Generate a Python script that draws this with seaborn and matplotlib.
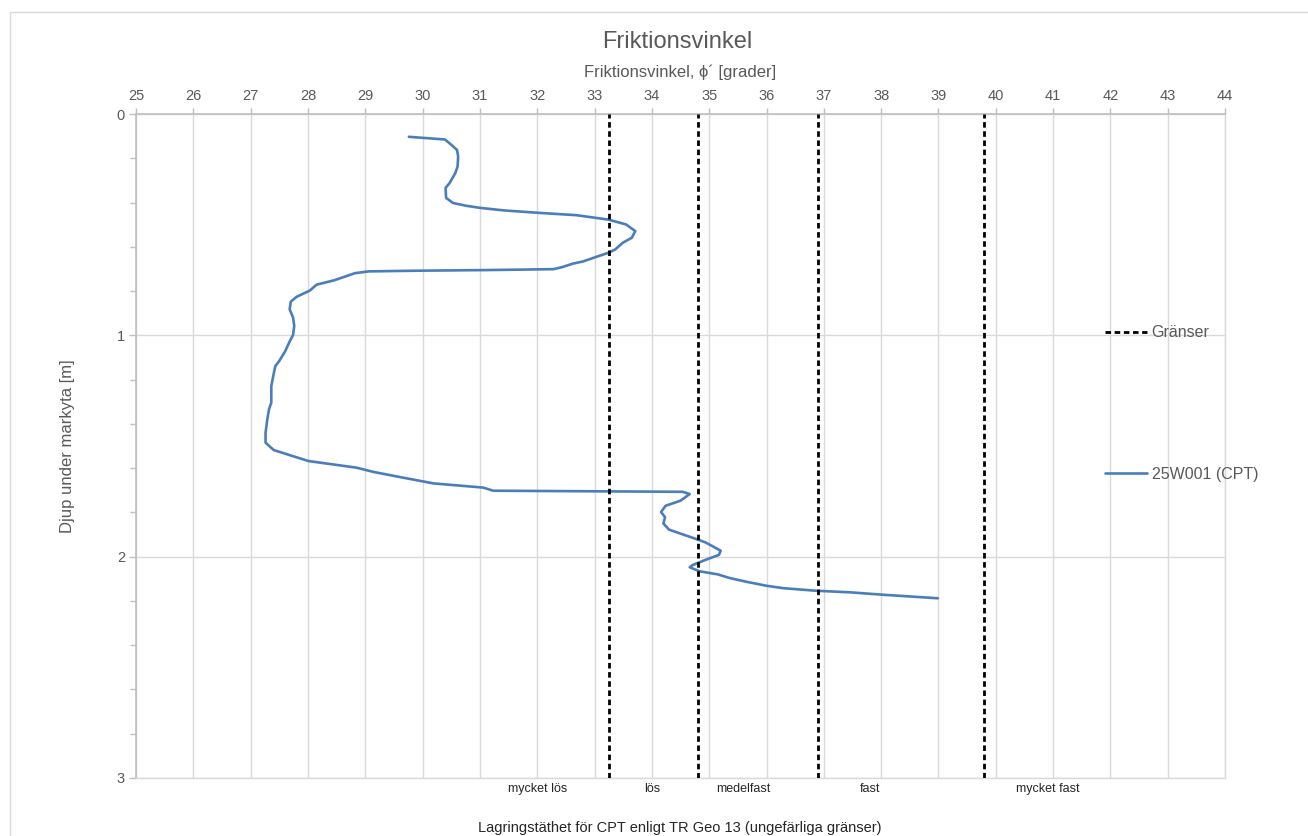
import matplotlib
matplotlib.use("Agg")
import matplotlib.pyplot as plt
from matplotlib.lines import Line2D
from matplotlib.patches import Rectangle
from matplotlib.ticker import MultipleLocator
import seaborn as sns
import pandas as pd

# CPT-derived friction angle profile, borehole 25W001
phi = [29.76, 30.39, 30.50, 30.60, 30.62, 30.61, 30.57, 30.47, 30.40, 30.41,
       30.53, 30.75, 31.00, 31.44, 32.06, 32.68, 33.24, 33.55, 33.71, 33.65,
       33.49, 33.36, 33.24, 32.99, 32.80, 32.62, 32.43, 32.28, 31.13, 29.88,
       29.06, 28.82, 28.46, 28.15, 28.03, 27.80, 27.70, 27.68, 27.74, 27.76,
       27.74, 27.68, 27.60, 27.50, 27.43, 27.40, 27.36, 27.36, 27.32, 27.29,
       27.26, 27.26, 27.40, 27.69, 28.01, 28.85, 29.14, 29.66, 30.19, 31.06,
       31.23, 34.54, 34.66, 34.50, 34.24, 34.16, 34.23, 34.20, 34.30, 34.77,
       34.93, 35.06, 35.20, 35.17, 34.94, 34.71, 34.66, 34.83, 35.15, 35.35,
       35.64, 35.99, 36.28, 36.86, 37.45, 38.03, 38.99]
depth = [0.103, 0.115, 0.139, 0.162, 0.192, 0.237, 0.267, 0.312, 0.334, 0.379,
         0.402, 0.414, 0.424, 0.436, 0.447, 0.457, 0.477, 0.499, 0.529, 0.559,
         0.582, 0.612, 0.627, 0.649, 0.666, 0.676, 0.692, 0.701, 0.705, 0.708,
         0.711, 0.719, 0.751, 0.771, 0.798, 0.826, 0.848, 0.882, 0.920, 0.957,
         0.998, 1.028, 1.073, 1.115, 1.139, 1.176, 1.229, 1.304, 1.334, 1.380,
         1.440, 1.485, 1.518, 1.542, 1.568, 1.598, 1.617, 1.643, 1.669, 1.688,
         1.702, 1.707, 1.717, 1.747, 1.770, 1.798, 1.822, 1.850, 1.878, 1.920,
         1.935, 1.953, 1.973, 1.992, 2.014, 2.038, 2.048, 2.066, 2.080, 2.096,
         2.113, 2.131, 2.142, 2.154, 2.161, 2.172, 2.188]

# Density class boundaries (TR Geo 13) and their labels
boundaries = [33.25, 34.8, 36.9, 39.8]
class_labels = ["mycket lös", "lös", "medelfast", "fast", "mycket fast"]
class_label_x = [32.0, 34.0, 35.6, 37.8, 40.9]

sns.set_theme(style="whitegrid")
plt.rcParams["font.family"] = ["Liberation Sans Narrow", "Liberation Sans", "DejaVu Sans"]

TXT = "#595959"
GRID = "#d9d9d9"
BLUE = "#4a7ebb"

fig = plt.figure(figsize=(13.08, 8.36), dpi=100)
fig.patch.set_facecolor("white")
ax = fig.add_axes([0.104, 0.0694, 0.8326, 0.7942])

# chart frame
fig.patches.append(Rectangle((10 / 1308, -0.05), 1.2, 1 - 12 / 836 + 0.05,
                             transform=fig.transFigure, fill=False,
                             edgecolor="#d9d9d9", linewidth=1.0, zorder=0))

df = pd.DataFrame({"phi": phi, "depth": depth})
sns.lineplot(data=df, x="phi", y="depth", sort=False, estimator=None,
             color=BLUE, linewidth=1.9, ax=ax, zorder=3)

for b in boundaries:
    ax.axvline(b, color="black", linewidth=2.0, linestyle=(0, (2.0, 1.3)), zorder=4)

ax.set_xlim(25, 44)
ax.set_ylim(3, 0)
ax.xaxis.set_major_locator(MultipleLocator(1))
ax.yaxis.set_major_locator(MultipleLocator(1))
ax.yaxis.set_minor_locator(MultipleLocator(0.2))
ax.xaxis.tick_top()
ax.xaxis.set_label_position("top")

ax.grid(True, which="major", color=GRID, linewidth=1.0)
ax.grid(False, which="minor")
ax.set_facecolor("white")
for side in ["top", "left"]:
    ax.spines[side].set_color("#bfbfbf")
    ax.spines[side].set_linewidth(1.2)
for side in ["bottom", "right"]:
    ax.spines[side].set_color(GRID)
    ax.spines[side].set_linewidth(1.0)

ax.tick_params(axis="x", which="major", top=True, bottom=False, direction="out",
               length=4, width=1, color="#bfbfbf", labelsize=10.5,
               labelcolor=TXT, pad=4)
ax.tick_params(axis="y", which="major", left=True, direction="out",
               length=5, width=1, color="#bfbfbf", labelsize=10.5,
               labelcolor=TXT, pad=3)
ax.tick_params(axis="y", which="minor", left=True, direction="out",
               length=4, width=1, color="#bfbfbf")
ax.set_xticks(range(25, 45))
ax.set_xticklabels([str(v) for v in range(25, 45)])

ax.set_xlabel("Friktionsvinkel, ϕ´ [grader]", fontsize=12, color=TXT, labelpad=8.5)
ax.set_ylabel("Djup under markyta [m]", fontsize=12, color=TXT, labelpad=30)
fig.text(0.5175, 1 - 42 / 836, "Friktionsvinkel", fontsize=17, color=TXT,
         ha="center", va="center")

for lbl, xv in zip(class_labels, class_label_x):
    ax.text(xv, 3.05, lbl, fontsize=9, color="#262626", ha="center", va="center")
fig.text(0.52, 1 - 828 / 836,
         "Lagringstäthet för CPT enligt TR Geo 13 (ungefärliga gränser)",
         fontsize=10.5, color="#262626", ha="center", va="center")

handles = [Line2D([], [], color="black", linewidth=2.0, linestyle=(0, (2.0, 1.3))),
           Line2D([], [], color=BLUE, linewidth=1.9)]
leg = fig.legend(handles, ["Gränser", "25W001 (CPT)"], loc="upper left",
                 bbox_to_anchor=(1091 / 1308, 1 - 311 / 836), frameon=False,
                 fontsize=11.5, labelcolor=TXT, handlelength=2.6,
                 handletextpad=0.3, labelspacing=7.9)

fig.savefig("out.png", dpi=100, facecolor="white")
